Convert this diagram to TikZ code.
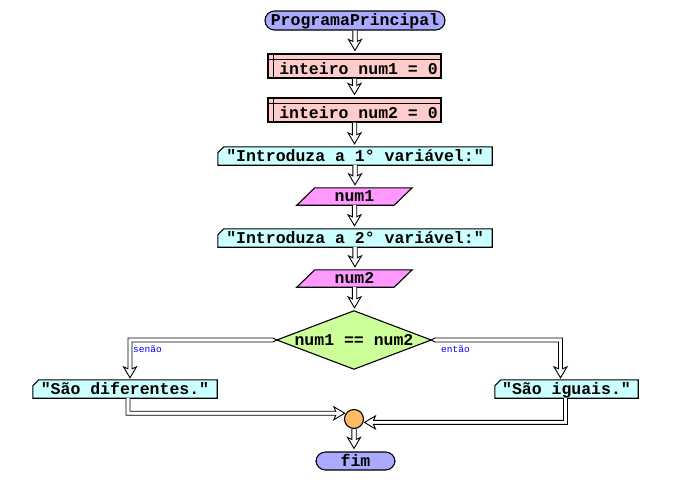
\documentclass[tikz,border=0pt]{standalone}
\usepackage{fontspec}
\usetikzlibrary{calc,backgrounds}
\newfontfamily\mono{Liberation Mono}
\definecolor{pillc}{HTML}{AAAAFF}
\definecolor{declc}{HTML}{FFCCCC}
\definecolor{outc}{HTML}{CCFFFF}
\definecolor{inc}{HTML}{FF99FF}
\definecolor{decc}{HTML}{CCFF99}
\definecolor{joinc}{HTML}{FFBB66}
\tikzset{
  lbl/.style={font=\mono\bfseries\fontsize{16.5}{18}\selectfont, inner sep=0pt, text height=12pt, text depth=2pt, align=center},
  pill/.style={lbl, draw, line width=1.1pt, fill=pillc, rounded corners=9.5pt},
  decl/.style={lbl, draw, line width=1.1pt, fill=declc, text height=16pt, text depth=0pt},
  box/.style={lbl},
  shp/.style={draw, line width=1.1pt},
  conn/.style={draw, line width=0.9pt, fill=white, line join=miter},
  small/.style={font=\mono\fontsize{9.5}{10}\selectfont, text=blue, inner sep=0pt}
}
\newcommand\hdown[2]{%
  \draw[conn] let \p1=(#1.south), \p2=(#2.north) in
    (\x1-2.2pt,\y1) -- (\x1-2.2pt,\y2+12pt) -- (\x1-6.5pt,\y2+14pt) -- (\x1,\y2+3pt)
    -- (\x1+6.5pt,\y2+14pt) -- (\x1+2.2pt,\y2+12pt) -- (\x1+2.2pt,\y1);}
\begin{document}
\begin{tikzpicture}[x=1pt,y=-1pt]
\useasboundingbox (0,0) rectangle (673,483);
% nodes
\node[pill, minimum width=180, minimum height=19] (s) at (355,20.5) {ProgramaPrincipal};
\node[decl, minimum width=173, minimum height=24] (d1) at (354.5,66) {\hspace*{8pt}inteiro num1 = 0};
\node[decl, minimum width=173, minimum height=24] (d2) at (354.5,110) {\hspace*{8pt}inteiro num2 = 0};
\node[box, minimum width=274, minimum height=18] (o1) at (355,156) {"Introduza a 1° variável:"};
\node[box, minimum width=115, minimum height=17] (i1) at (354.5,196.5) {num1};
\node[box, minimum width=274, minimum height=18] (o2) at (355,238) {"Introduza a 2° variável:"};
\node[box, minimum width=115, minimum height=17] (i2) at (354.5,278.5) {num2};
\node[box, minimum width=154, minimum height=58] (dm) at (354,340) {num1 == num2};
\node[box, minimum width=184, minimum height=18] (oD) at (125,389) {"São diferentes."};
\node[box, minimum width=143, minimum height=18] (oI) at (566.5,389) {"São iguais."};
\node[circle, draw, line width=1.1pt, fill=joinc, minimum size=19, inner sep=0pt] (c) at (354,419) {};
\node[pill, minimum width=79, minimum height=18] (f) at (355.5,461) {fim};
% background shapes
\begin{scope}[on background layer]
  \foreach \n in {o1,o2,oD,oI}
    \draw[shp, fill=outc] ([xshift=6pt]\n.north west) -- (\n.north east) -- (\n.south east)
      -- (\n.south west) -- ([yshift=-6pt]\n.north west) -- cycle;
  \foreach \n in {i1,i2}
    \draw[shp, fill=inc] ([xshift=18pt]\n.north west) -- (\n.north east)
      -- ([xshift=-18pt]\n.south east) -- (\n.south west) -- cycle;
  \draw[shp, fill=decc] (dm.north) -- (dm.east) -- (dm.south) -- (dm.west) -- cycle;
\end{scope}
\foreach \n in {d1,d2} {
  \draw[shp] ([yshift=-6pt]\n.north west) -- ([yshift=-6pt]\n.north east);
  \draw[shp] ([xshift=6pt]\n.north west) -- ([xshift=6pt]\n.south west);
}
% vertical connectors
\hdown{s}{d1}
\hdown{d1}{d2}
\hdown{d2}{o1}
\hdown{o1}{i1}
\hdown{i1}{o2}
\hdown{o2}{i2}
\hdown{i2}{dm}
\hdown{c}{f}
% senao branch
\draw[conn] let \p1=(dm.west), \p2=([xshift=5pt]oD.north) in
  (\x1,\y1) -- (\x1-4pt,\y1+2pt) -- (\x2-2pt,\y1+2pt) -- (\x2-2pt,\y2+11pt)
  -- (\x2-6.5pt,\y2+13pt) -- (\x2,\y2+2pt) -- (\x2+6.5pt,\y2+13pt) -- (\x2+2pt,\y2+11pt)
  -- (\x2+2pt,\y1-2pt) -- (\x1-4pt,\y1-2pt) -- cycle;
% entao branch
\draw[conn] let \p1=(dm.east), \p2=([xshift=-6pt]oI.north) in
  (\x1,\y1) -- (\x1+4pt,\y1+2pt) -- (\x2+2pt,\y1+2pt) -- (\x2+2pt,\y2+11pt)
  -- (\x2+6.5pt,\y2+13pt) -- (\x2,\y2+2pt) -- (\x2-6.5pt,\y2+13pt) -- (\x2-2pt,\y2+11pt)
  -- (\x2-2pt,\y1-2pt) -- (\x1+4pt,\y1-2pt) -- cycle;
% join connectors
\draw[conn] let \p1=([xshift=3pt]oD.south), \p2=(c.145) in
  (\x1-2pt,\y1) -- (\x1-2pt,\y2-2pt) -- (\x2-10pt,\y2-2pt) -- (\x2-12pt,\y2-6.5pt)
  -- (\x2-1pt,\y2) -- (\x2-12pt,\y2+6.5pt) -- (\x2-10pt,\y2+2pt) -- (\x1+2pt,\y2+2pt) -- (\x1+2pt,\y1);
\draw[conn] let \p1=([xshift=-1pt]oI.south), \p2=(c.-20) in
  (\x1+2pt,\y1) -- (\x1+2pt,\y2-2pt) -- (\x2+10pt,\y2-2pt) -- (\x2+12pt,\y2-6.5pt)
  -- (\x2+1pt,\y2) -- (\x2+12pt,\y2+6.5pt) -- (\x2+10pt,\y2+2pt) -- (\x1-2pt,\y2+2pt) -- (\x1-2pt,\y1);
% branch labels
\node[small, anchor=west] (ls) at (133,349.5) {senão};
\node[small, anchor=west] (le) at (441,349.5) {então};
\end{tikzpicture}
\end{document}
